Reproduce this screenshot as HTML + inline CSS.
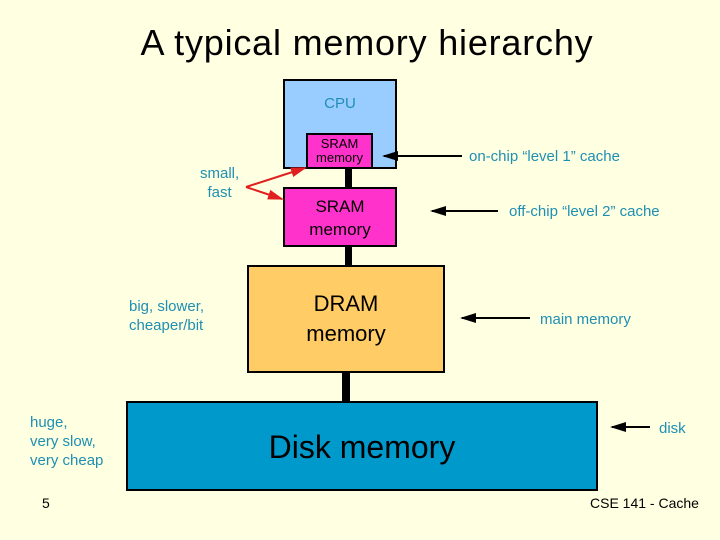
<!DOCTYPE html>
<html><head><style>
body{margin:0;width:720px;height:540px;background:#ffffe1;position:relative;overflow:hidden;font-family:"Liberation Sans",sans-serif}
.t{position:absolute;color:#1f8fb3;font-size:15px;line-height:19px}
.b{position:absolute;border:2px solid #000;box-sizing:border-box;text-align:center;color:#000}
</style></head><body>
<div style="position:absolute;left:0;top:22px;width:734px;text-align:center;font-size:36px;letter-spacing:0.8px;color:#000">A typical memory hierarchy</div>
<div style="position:absolute;left:345px;top:160px;width:7px;height:110px;background:#000"></div>
<div style="position:absolute;left:342px;top:370px;width:8px;height:33px;background:#000"></div>
<div class="b" style="left:283px;top:79px;width:114px;height:90px;background:#99ccff"><div style="color:#1f8fb3;font-size:15px;margin-top:14px">CPU</div></div>
<div class="b" style="left:306px;top:133px;width:67px;height:36px;background:#ff33cc;font-size:13px;line-height:14px;padding-top:2px">SRAM<br>memory</div>
<div class="b" style="left:283px;top:187px;width:114px;height:60px;background:#ff33cc;font-size:17px;line-height:23px;padding-top:6px">SRAM<br>memory</div>
<div class="b" style="left:247px;top:265px;width:198px;height:108px;background:#ffcc66;font-size:22px;line-height:30px;padding-top:22px">DRAM<br>memory</div>
<div class="b" style="left:126px;top:401px;width:472px;height:90px;background:#0099cc;font-size:32px;padding-top:26px">Disk memory</div>
<div class="t" style="left:200px;top:164px;text-align:center">small,<br>fast</div>
<div class="t" style="left:129px;top:297px">big, slower,<br>cheaper/bit</div>
<div class="t" style="left:30px;top:413px">huge,<br>very slow,<br>very cheap</div>
<div class="t" style="left:469px;top:147px">on-chip “level 1” cache</div>
<div class="t" style="left:509px;top:202px">off-chip “level 2” cache</div>
<div class="t" style="left:540px;top:310px">main memory</div>
<div class="t" style="left:659px;top:419px">disk</div>
<div style="position:absolute;left:42px;top:495px;font-size:14px">5</div>
<div style="position:absolute;left:590px;top:495px;font-size:14px">CSE 141 - Cache</div>
<svg width="720" height="540" style="position:absolute;left:0;top:0">
<defs><marker id="a" markerWidth="8" markerHeight="8" refX="7" refY="4" orient="auto"><path d="M0,1.5 L8,4 L0,6.5z" fill="#000"/></marker>
<marker id="r" markerWidth="8" markerHeight="8" refX="7" refY="4" orient="auto"><path d="M0,1.5 L8,4 L0,6.5z" fill="#e02020"/></marker></defs>
<g stroke="#000" stroke-width="2" marker-end="url(#a)">
<line x1="462" y1="156" x2="384" y2="156"/>
<line x1="498" y1="211" x2="432" y2="211"/>
<line x1="530" y1="318" x2="462" y2="318"/>
<line x1="650" y1="427" x2="612" y2="427"/>
</g>
<g stroke="#e02020" stroke-width="2" marker-end="url(#r)">
<line x1="246" y1="187" x2="305" y2="168"/>
<line x1="246" y1="187" x2="282" y2="199"/>
</g>
</svg>
</body></html>
